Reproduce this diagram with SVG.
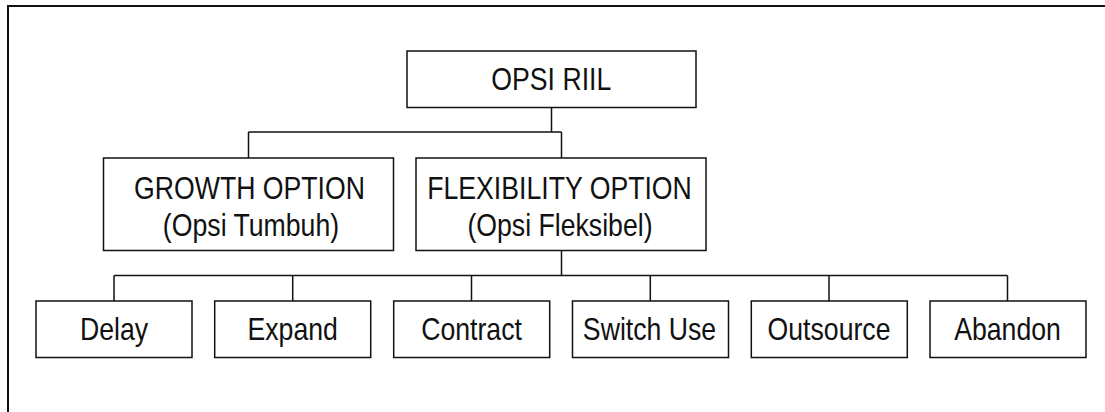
<svg xmlns="http://www.w3.org/2000/svg" width="1105" height="412" viewBox="0 0 1105 412">
<style>
.bg{fill:#ffffff}
.frame{fill:none;stroke:#111;stroke-width:2}
.box{fill:#fff;stroke:#111;stroke-width:1.5}
.conn{fill:none;stroke:#111;stroke-width:1.5}
.t{font-family:"Liberation Sans",Arial,Helvetica,sans-serif;font-size:31px;fill:#111;text-anchor:middle}
</style>
<rect class="bg" x="0" y="0" width="1105" height="412"/>
<path class="frame" d="M8,412 V6 H1105"/>
<g id="connectors">
<path class="conn" d="M551.5,107.5 V132 M248.5,132 H561.5 M248.5,132 V158 M561.5,132 V158"/>
<path class="conn" d="M561.5,250.5 V275.5 M114,275.5 H1007.5 M114,275.5 V301 M292.7,275.5 V301 M471.5,275.5 V301 M650.3,275.5 V301 M829,275.5 V301 M1007.5,275.5 V301"/>
</g>
<g id="opsi-riil">
<rect class="box" x="407" y="51" width="289" height="56.5"/>
<text class="t" transform="translate(551.3,90) scale(0.86,1)">OPSI RIIL</text>
</g>
<g id="growth-option">
<rect class="box" x="103.5" y="158" width="290" height="92.5"/>
<text class="t" transform="translate(249.5,198.5) scale(0.86,1)">GROWTH OPTION</text>
<text class="t" transform="translate(251,235.5) scale(0.86,1)">(Opsi Tumbuh)</text>
</g>
<g id="flexibility-option">
<rect class="box" x="416" y="158" width="290" height="92.5"/>
<text class="t" transform="translate(559.5,198.5) scale(0.86,1)">FLEXIBILITY OPTION</text>
<text class="t" transform="translate(560,235.5) scale(0.86,1)">(Opsi Fleksibel)</text>
</g>
<g id="delay">
<rect class="box" x="36" y="301" width="156" height="56.5"/>
<text class="t" transform="translate(114,339.5) scale(0.86,1)">Delay</text>
</g>
<g id="expand">
<rect class="box" x="214.7" y="301" width="156" height="56.5"/>
<text class="t" transform="translate(292.7,339.5) scale(0.86,1)">Expand</text>
</g>
<g id="contract">
<rect class="box" x="393.7" y="301" width="156" height="56.5"/>
<text class="t" transform="translate(471.5,339.5) scale(0.86,1)">Contract</text>
</g>
<g id="switch-use">
<rect class="box" x="572.5" y="301" width="156" height="56.5"/>
<text class="t" transform="translate(649.5,339.5) scale(0.86,1)">Switch Use</text>
</g>
<g id="outsource">
<rect class="box" x="751.3" y="301" width="156" height="56.5"/>
<text class="t" transform="translate(829,339.5) scale(0.86,1)">Outsource</text>
</g>
<g id="abandon">
<rect class="box" x="930" y="301" width="156" height="56.5"/>
<text class="t" transform="translate(1007.5,339.5) scale(0.86,1)">Abandon</text>
</g>
</svg>
